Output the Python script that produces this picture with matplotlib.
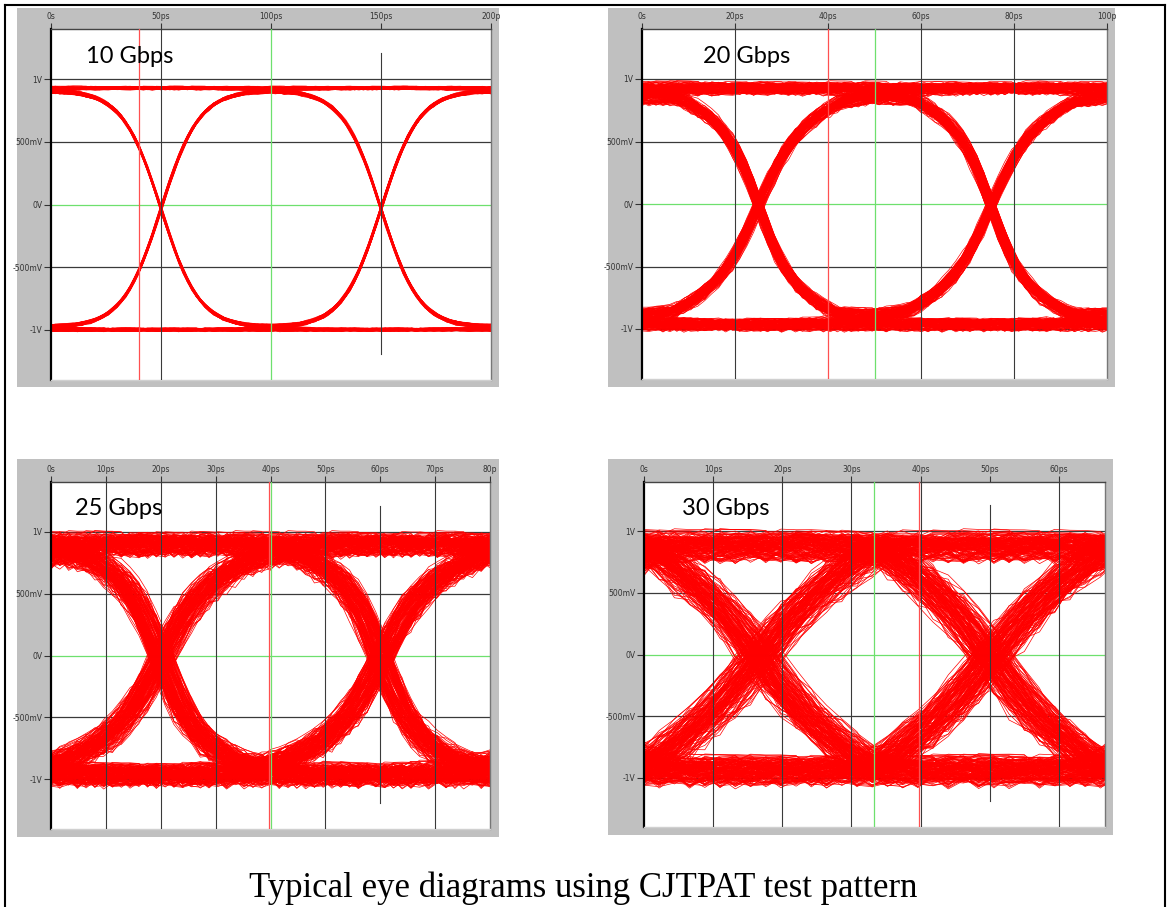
import numpy as np
import matplotlib
matplotlib.use('Agg')
import matplotlib.pyplot as plt
from matplotlib.patches import Rectangle
from matplotlib.lines import Line2D

W, H = 1167, 907

# ---- data ----
titles = ['10 Gbps', '20 Gbps', '25 Gbps', '30 Gbps']
bit_period_ps = [100.0, 50.0, 40.0, 33.33]
span_ps = [200.0, 100.0, 80.0, 66.67]
xticks = [[0, 50, 100, 150, 200],
          [0, 20, 40, 60, 80, 100],
          [0, 10, 20, 30, 40, 50, 60, 70, 80],
          [0, 10, 20, 30, 40, 50, 60]]
xtick_labels = [['0s', '50ps', '100ps', '150ps', '200p'],
                ['0s', '20ps', '40ps', '60ps', '80ps', '100p'],
                ['0s', '10ps', '20ps', '30ps', '40ps', '50ps', '60ps', '70ps', '80p'],
                ['0s', '10ps', '20ps', '30ps', '40ps', '50ps', '60ps']]
yticks = [1.0, 0.5, 0.0, -0.5, -1.0]
ytick_labels = ['1V', '500mV', '0V', '-500mV', '-1V']

high_level = [0.93, 0.93, 0.90, 0.88]      # V, settled "1"
low_level = [-1.00, -0.97, -0.97, -0.95]   # V, settled "0"
ramp_share = [0.0, 0.3, 0.3, 0.7]          # straight-ramp part of an edge
rise_ramp = [60.0, 36.0, 40.0, 33.0]       # ps, ramp width, rising
fall_ramp = [60.0, 34.0, 34.0, 32.0]       # ps, ramp width, falling
rise_tau = [17.0, 7.5, 7.0, 8.0]           # ps, rounded part of rising edge
fall_tau = [17.0, 6.5, 6.0, 7.0]           # ps, rounded part of falling edge
rise_tail = [0.06, 0.30, 0.35, 0.08]       # share of slow settling on rise
fall_tail = [0.06, 0.20, 0.12, 0.05]       # share of slow settling on fall
tail_tau = [45.0, 22.0, 18.0, 18.0]        # ps, slow settling
level_spread = [0.012, 0.04, 0.07, 0.09]   # V, trace to trace
sample_noise = [0.005, 0.02, 0.045, 0.06]  # V, point to point
jitter_ps = [0.4, 0.9, 2.0, 2.4]
sample_ps = [2.0, 1.5, 1.6, 2.2]
passes = [1, 2, 3, 3]

red_cursor = [40.0, 40.0, 39.8, 39.8]
green_cursor = [100.0, 50.0, 40.0, 33.33]
grid_full = [[50], [20, 60, 80], [10, 20, 30, 50, 70], [10, 20, 30, 40, 60]]
grid_part = [150, None, 60, 50]

# CJTPAT-like bit stream (K28.5, D21.5 and low transition density runs)
pattern = ("0011111010" "1100000101" "1010101010" "1010101010" "1010101010"
           "1000111000" "0111000111" "1000111000" "0111000111"
           "1111100000" "1111100000" "1111100000" "0000011111"
           "1010101010" "1010101010" "0011111010" "1100000101"
           "0111100011" "1000011100" "0100101101" "1011010010")

level_wobble = [0.4, -0.8, 0.1, 0.9, -0.3, -0.6, 0.7, 0.0, -0.9, 0.5,
                0.2, -0.4, 0.8, -0.1, 0.6, -0.7, 0.3]
time_wobble = [0.3, -0.9, 0.6, -0.2, 1.0, -0.5, 0.1, -0.8, 0.7, -0.3, 0.9, -0.6, 0.0]
sample_wobble = [0.5, -0.3, 0.9, -0.7, 0.2, -1.0, 0.4, 0.8, -0.2, -0.6, 0.1, 0.7,
                 -0.9, 0.3, -0.4, 1.0, -0.1, 0.6, -0.8, 0.0, 0.9, -0.5, 0.2]

caption = 'Typical eye diagrams using CJTPAT test pattern'

# pixel boxes (x0, y0, x1, y1) of the grey frames and the white plot areas
grey_px = [(17, 8, 499, 387), (608, 8, 1115, 387), (17, 459, 499, 837), (608, 459, 1113, 835)]
ax_px = [(51, 29, 491, 380), (642, 29, 1107, 379), (51, 482, 490, 829), (644, 482, 1105, 827)]
title_pos = [(0.080, 0.903), (0.131, 0.903), (0.055, 0.905), (0.082, 0.905)]


def fig_box(b):
    x0, y0, x1, y1 = b
    return [x0 / W, 1 - y1 / H, (x1 - x0) / W, (y1 - y0) / H]


def edge(t, m, w, tf, ts, c):
    ramp = np.clip(t / w + 0.5, 0.0, 1.0)
    round_ = 0.5 * (1 + np.tanh(t / tf))
    slow = 0.5 * (1 + np.tanh(t / ts))
    return (1 - c) * (m * ramp + (1 - m) * round_) + c * slow


def eye_traces(i):
    T = bit_period_ps[i]
    dt = sample_ps[i]
    b = np.array([1.0 if c == '1' else 0.0 for c in pattern])
    t = np.arange(-dt, span_ps[i] + 2 * dt, dt)
    swing = high_level[i] - low_level[i]
    out = []
    for p in range(passes[i]):
        for k in range(12, len(b) - 12):
            q = k + 5 * p
            g = (k - 0.5) * T + t - jitter_ps[i] * time_wobble[q % len(time_wobble)]
            x = np.full_like(t, b[k - 11])
            for n in range(k - 10, k + 11):
                d = b[n] - b[n - 1]
                if d > 0:
                    x += edge(g - n * T, ramp_share[i], rise_ramp[i], rise_tau[i],
                              tail_tau[i], rise_tail[i])
                elif d < 0:
                    x -= edge(g - n * T, ramp_share[i], fall_ramp[i], fall_tau[i],
                              tail_tau[i], fall_tail[i])
            noise = np.array([sample_wobble[(jj * 5 + q * 3 + p * 11) % len(sample_wobble)]
                              for jj in range(len(t))])
            y = (low_level[i] + swing * x
                 + level_spread[i] * level_wobble[(q + 3 * p) % len(level_wobble)]
                 + sample_noise[i] * noise)
            out.append((t, y))
    return out


fig = plt.figure(figsize=(W / 100, H / 100), dpi=100)
fig.patch.set_facecolor('white')

# page border
fig.add_artist(Line2D([5 / W, 5 / W], [0, 1 - 5 / H], color='black', lw=1.5))
fig.add_artist(Line2D([5 / W, 1165 / W], [1 - 5 / H, 1 - 5 / H], color='black', lw=1.5))
fig.add_artist(Line2D([1165 / W, 1165 / W], [0, 1 - 5 / H], color='black', lw=1.5))

small_font = ['Liberation Sans Narrow', 'DejaVu Sans']

for i in range(4):
    gb = fig_box(grey_px[i])
    fig.patches.append(Rectangle((gb[0], gb[1]), gb[2], gb[3], transform=fig.transFigure,
                                 facecolor='#c0c0c0', edgecolor='none', zorder=-5))
    ax = fig.add_axes(fig_box(ax_px[i]))
    ax.set_zorder(2)
    ax.set_facecolor('white')
    ax.set_xlim(0, span_ps[i])
    ax.set_ylim(-1.4, 1.4)

    # graticule
    for yv in [1.0, 0.5, -0.5, -1.0]:
        ax.axhline(yv, color='#3a3a3a', lw=0.9, zorder=1)
    ax.axhline(0.0, color='#6ee06e', lw=0.9, zorder=1)
    for xv in grid_full[i]:
        ax.axvline(xv, color='#3a3a3a', lw=0.8, zorder=3)
    if grid_part[i] is not None:
        ax.plot([grid_part[i], grid_part[i]], [-1.19, 1.21], color='#3a3a3a', lw=0.8, zorder=3)
    ax.axvline(green_cursor[i], color='#6ee06e', lw=0.9, zorder=3)
    ax.axvline(red_cursor[i], color='#ff5050', lw=0.9, zorder=3)

    for t, y in eye_traces(i):
        ax.plot(t, y, color='#ff0000', lw=0.5, zorder=2)

    ax.xaxis.tick_top()
    ax.set_xticks(xticks[i])
    ax.set_xticklabels(xtick_labels[i])
    ax.set_yticks(yticks)
    ax.set_yticklabels(ytick_labels)
    ax.tick_params(axis='x', direction='out', length=4.5, width=0.8, color='#333333',
                   labelsize=5.5, labelcolor='#333333', pad=1)
    ax.tick_params(axis='y', direction='out', length=5, width=0.8, color='#333333',
                   labelsize=5.5, labelcolor='#333333', pad=1)
    for lab in ax.get_xticklabels() + ax.get_yticklabels():
        lab.set_family(small_font)

    ax.spines['left'].set_color('black')
    ax.spines['left'].set_linewidth(1.6)
    ax.spines['top'].set_color('#444444')
    ax.spines['top'].set_linewidth(1.0)
    ax.spines['right'].set_color('#777777')
    ax.spines['right'].set_linewidth(1.0)
    ax.spines['bottom'].set_color('#d0d0d0')
    ax.spines['bottom'].set_linewidth(1.0)

    ax.text(title_pos[i][0], title_pos[i][1], titles[i], transform=ax.transAxes,
            fontsize=17, family='Lato', color='black', ha='left', va='baseline', zorder=5)

fig.text(583 / W, 1 - 897 / H, caption, ha='center', va='baseline',
         fontsize=25, family='Liberation Serif', color='black')

fig.savefig('out.png', dpi=100)
